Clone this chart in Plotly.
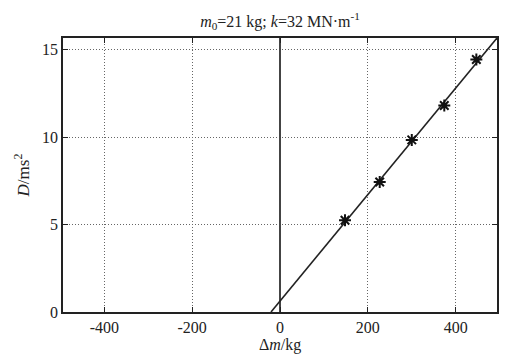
import plotly.graph_objects as go

# data
delta_m = [148, 227, 300, 374, 447]
D_vals = [5.25, 7.44, 9.85, 11.82, 14.45]
fit_x = [-20.5, 494]
fit_y = [0.0, 15.68]
x_ticks = [-400, -200, 0, 200, 400]
x_tick_labels = ["-400", "-200", "0", "200", "400"]
y_ticks = [0, 5, 10, 15]
y_tick_labels = ["0", "5", "10", "15"]

font_family = "Liberation Serif"
ink = "#222222"

fig = go.Figure()
fig.add_trace(go.Scatter(x=fit_x, y=fit_y, mode="lines",
                         line=dict(color=ink, width=1.6),
                         showlegend=False, hoverinfo="skip"))
fig.add_trace(go.Scatter(x=delta_m, y=D_vals, mode="markers",
                         marker=dict(symbol="asterisk-open", size=10, color="#111111",
                                     line=dict(color="#111111", width=2)),
                         showlegend=False))

axis_common = dict(
    showline=True, linecolor=ink, linewidth=1.5, mirror="ticks",
    ticks="inside", ticklen=5, tickcolor=ink, tickwidth=1,
    showgrid=True, gridcolor="#666666", griddash="1px,2px", gridwidth=1,
    tickfont=dict(family=font_family, size=16, color=ink),
)

fig.update_layout(
    width=527, height=357,
    margin=dict(l=63, r=30, t=38, b=45),
    font=dict(family=font_family, size=16, color=ink),
    paper_bgcolor="white", plot_bgcolor="white",
    title=dict(text="<i>m</i><sub>0</sub>=21 kg; <i>k</i>=32 MN·m<sup>-1</sup>",
               x=(63 + 497) / 2 / 527, xanchor="center", y=0.94, yanchor="middle",
               font=dict(family=font_family, size=16, color=ink)),
    xaxis=dict(range=[-494, 494], tickvals=x_ticks, ticktext=x_tick_labels,
               zeroline=True, zerolinecolor="#444444", zerolinewidth=1.5,
               ticklabelstandoff=0,
               **axis_common),
    yaxis=dict(range=[0, 15.68], tickvals=y_ticks, ticktext=y_tick_labels,
               zeroline=False,
               title=dict(text="<i>D</i>/ms<sup>2</sup>", standoff=8,
                          font=dict(family=font_family, size=17, color=ink)),
               **axis_common),
    annotations=[dict(text="Δ<i>m</i>/kg", xref="paper", yref="paper",
                      x=0.5, y=-33 / 274, xanchor="center", yanchor="middle",
                      showarrow=False,
                      font=dict(family=font_family, size=16, color=ink))],
)

fig.write_html("out.html", config={"displayModeBar": False},
               post_script="document.body.style.margin='0';document.body.style.padding='0';")
